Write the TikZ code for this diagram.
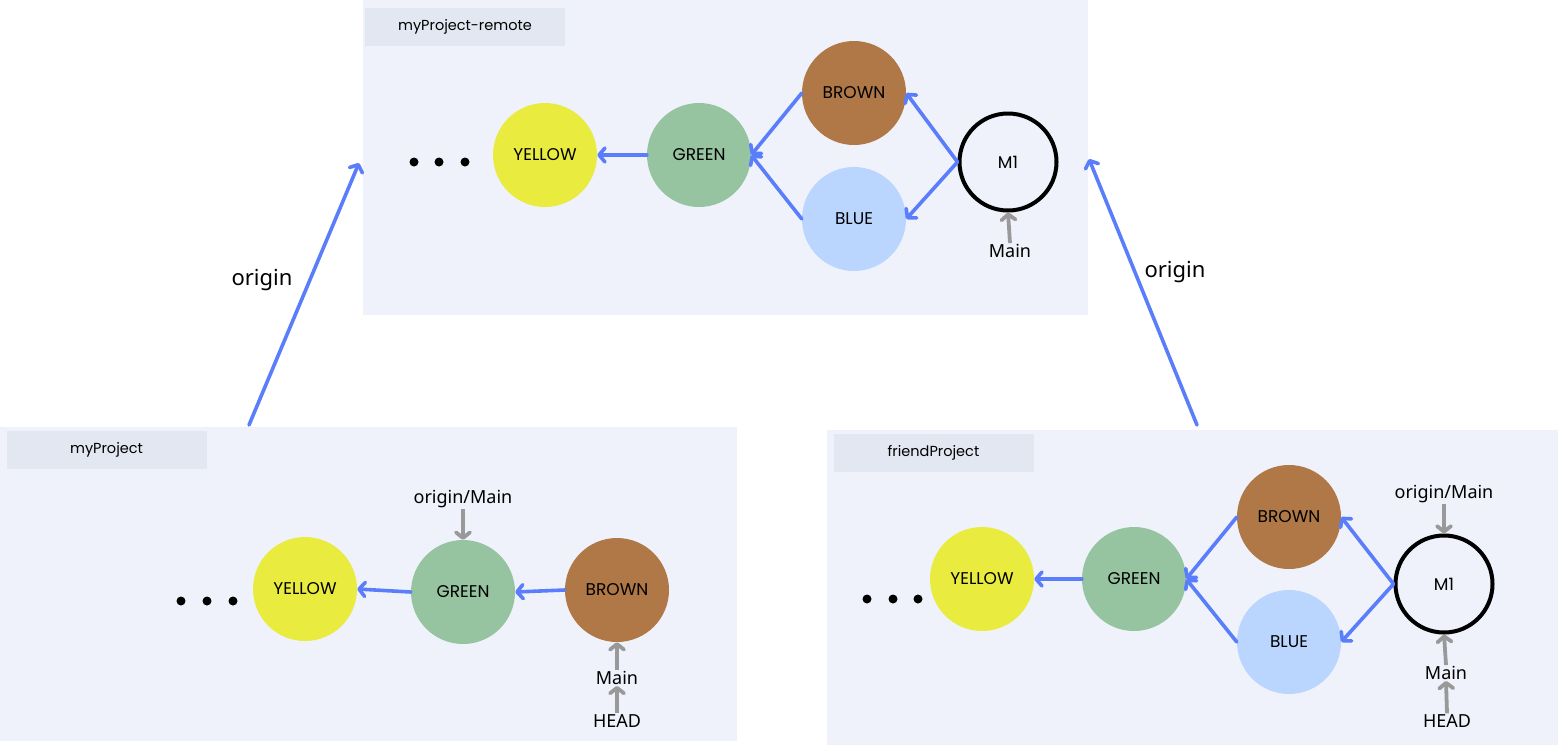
\documentclass[tikz,border=0pt]{standalone}
\usepackage{fontspec}
\setmainfont{Noto Sans}
\newfontfamily\geo{Poppins}
\usetikzlibrary{arrows.meta}
\definecolor{panelbg}{HTML}{EFF2FA}
\definecolor{headbg}{HTML}{E3E7F1}
\definecolor{cyellow}{HTML}{E9EC3F}
\definecolor{cgreen}{HTML}{96C4A0}
\definecolor{cbrown}{HTML}{AF7846}
\definecolor{cblue}{HTML}{BAD6FE}
\definecolor{arrowblue}{HTML}{5A7DFB}
\definecolor{refgray}{HTML}{999999}
\begin{document}
\begin{tikzpicture}[x=1pt,y=-1pt,
  commit/.style={circle,minimum size=104pt,inner sep=0pt,
    font=\geo\fontsize{17pt}{19pt}\selectfont},
  merge/.style={circle,minimum size=97pt,inner sep=0pt,draw=black,line width=4pt,
    font=\geo\fontsize{17pt}{19pt}\selectfont},
  header/.style={fill=headbg,minimum width=200pt,minimum height=38pt,inner sep=0pt,
    font=\geo\fontsize{14.5pt}{16pt}\selectfont},
  reflabel/.style={inner sep=1pt,font=\fontsize{18pt}{20pt}\selectfont},
  originlabel/.style={inner sep=1pt,font=\fontsize{22pt}{24pt}\selectfont},
  parent/.style={draw=arrowblue,line width=3.6pt,line cap=round,
    -{Straight Barb[length=6pt,width=14pt,round]}},
  remote/.style={draw=arrowblue,line width=3.6pt,line cap=round,
    -{Straight Barb[length=6pt,width=14pt,round]}},
  pointer/.style={draw=refgray,line width=3.8pt,
    -{Straight Barb[length=5.5pt,width=14pt,round]}},
  dot/.style={circle,fill=black,minimum size=9pt,inner sep=0pt}
]
\useasboundingbox (0,0) rectangle (1560,745);
% panels
\fill[panelbg] (363,0) rectangle (1088,315);
\fill[panelbg] (0,427) rectangle (737,741);
\fill[panelbg] (827,430) rectangle (1558,745);

% ---------- top panel ----------
\node[header] (hR) at (465,27) {myProject-remote};
\node[dot] (rd1) at (414,162) {};
\node[dot] (rd2) at (439,162) {};
\node[dot] (rd3) at (465,162) {};
\node[commit,fill=cyellow] (rY) at (545,155) {YELLOW};
\node[commit,fill=cgreen]  (rG) at (699,155) {GREEN};
\node[commit,fill=cbrown]  (rBr) at (854,93) {BROWN};
\node[commit,fill=cblue]   (rBl) at (854,219) {BLUE};
\node[merge] (rM) at (1008,162) {M1};
\node[reflabel] (rMain) at (1010,251) {Main};
\draw[parent] (rG.west) -- (rY.east);
\draw[parent] (rBr.west) -- (rG.east);
\draw[parent] (rBl.west) -- (rG.east);
\draw[parent] (rM.west) -- (rBr.east);
\draw[parent] (rM.west) -- (rBl.east);
\draw[pointer] (rMain.north) -- (rM.south);

% ---------- bottom left ----------
\node[header] (hL) at (106.5,449.5) {myProject};
\node[dot] (ld1) at (181,601) {};
\node[dot] (ld2) at (207,601) {};
\node[dot] (ld3) at (233,601) {};
\node[commit,fill=cyellow] (lY) at (305,589) {YELLOW};
\node[commit,fill=cgreen]  (lG) at (463,592) {GREEN};
\node[commit,fill=cbrown]  (lBr) at (617,590) {BROWN};
\node[reflabel] (lOM) at (463,499) {origin/Main};
\node[reflabel] (lMain) at (617,678) {Main};
\node[reflabel] (lHead) at (617,721) {HEAD};
\draw[parent] (lG.west) -- (lY.east);
\draw[parent] (lBr.west) -- (lG.east);
\draw[pointer] (lOM.south) -- (lG.north);
\draw[pointer] (lMain.north) -- (lBr.south);
\draw[pointer] (lHead.north) -- (lMain.south);

% ---------- bottom right ----------
\node[header] (hF) at (933.5,453) {friendProject};
\node[dot] (fd1) at (867,599) {};
\node[dot] (fd2) at (893,599) {};
\node[dot] (fd3) at (918,599) {};
\node[commit,fill=cyellow] (fY) at (982,579) {YELLOW};
\node[commit,fill=cgreen]  (fG) at (1134,579) {GREEN};
\node[commit,fill=cbrown]  (fBr) at (1289,517) {BROWN};
\node[commit,fill=cblue]   (fBl) at (1289,642) {BLUE};
\node[merge] (fM) at (1444,584) {M1};
\node[reflabel] (fOM) at (1444,494) {origin/Main};
\node[reflabel] (fMain) at (1446,673) {Main};
\node[reflabel] (fHead) at (1447,721) {HEAD};
\draw[parent] (fG.west) -- (fY.east);
\draw[parent] (fBr.west) -- (fG.east);
\draw[parent] (fBl.west) -- (fG.east);
\draw[parent] (fM.west) -- (fBr.east);
\draw[parent] (fM.west) -- (fBl.east);
\draw[pointer] (fOM.south) -- (fM.north);
\draw[pointer] (fMain.north) -- (fM.south);
\draw[pointer] (fHead.north) -- (fMain.south);

% ---------- origin links ----------
\coordinate (lS) at (249,425);
\coordinate (lT) at (359,163);
\coordinate (fS) at (1197,425);
\coordinate (fT) at (1089,159);
\draw[remote] (lS) -- (lT);
\draw[remote] (fS) -- (fT);
\node[originlabel] (o1) at (262,280) {origin};
\node[originlabel] (o2) at (1175,272) {origin};
\end{tikzpicture}
\end{document}
